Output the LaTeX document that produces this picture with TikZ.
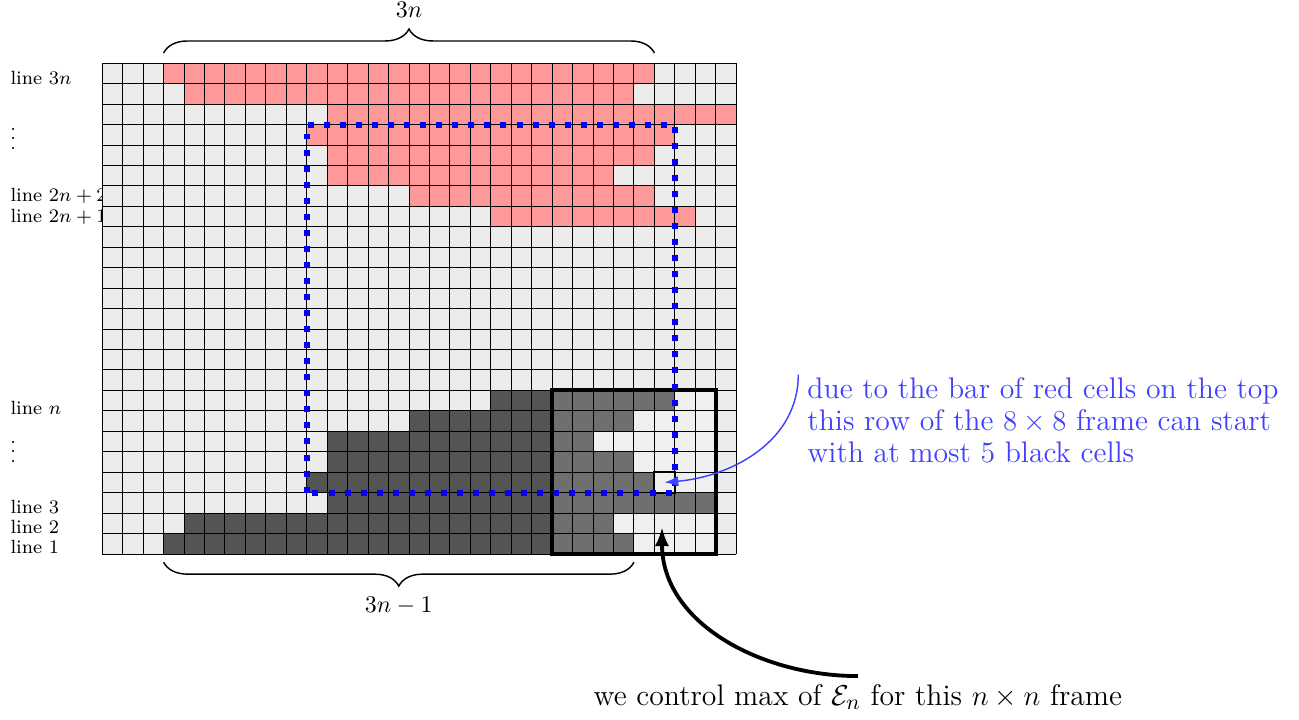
\documentclass[tikz,border=0pt]{standalone}
\usepackage{amsmath,amssymb}
\usepackage{tikz}
\usetikzlibrary{arrows.meta, positioning, decorations.pathreplacing}

\begin{document}
\begin{tikzpicture}[scale=0.3]
\useasboundingbox (-5.0,-8.07) rectangle (58.52,27.09);
% Line labels
\foreach \y/\tag/\txt in {23.26/lthreen/{line $3n$},17.5/ltwontwo/{line $2n+2$},16.5/ltwonone/{line $2n+1$},7.12/ln/{line $n$},2.28/lthree/{line 3},1.33/ltwo/{line 2},0.36/lone/{line 1}} {
  \node[anchor=west,font=\footnotesize] (\tag) at (-4.9,\y) {\txt};
}
\node[anchor=west,font=\footnotesize,inner sep=0pt] (vdotsa) at (-4.51,20.65) {$\vdots$};
\node[anchor=west,font=\footnotesize,inner sep=0pt] (vdotsb) at (-4.51,5.35) {$\vdots$};
% Cells
\fill[gray!15] (0,0) rectangle (31,24);
\foreach \r/\a/\b in {24/3/26,23/4/25,22/11/30,21/10/27,20/11/26,19/11/24,18/15/26,17/19/28} {
  \fill[red!40] (\a,\r-1) rectangle (\b+1,\r);
}
\foreach \r/\a/\b in {8/19/27,7/15/25,6/11/23,5/11/25,4/10/26,3/11/29,2/4/24,1/3/25} {
  \fill[black!67] (\a,\r-1) rectangle (\b+1,\r);
}
\fill[white,opacity=0.16] (22,0) rectangle (30,8);
\draw[step=1] (0,0) grid (31,24);
% n x n frame and the watched cell
\draw[ultra thick] (22,0) rectangle (30,8);
\node[draw,thick,minimum size=0.3cm,inner sep=0pt] (probe) at (27.5,3.5) {};
% Blue window
\draw[blue,line width=2.5pt,dash pattern=on 2.5pt off 4.2pt] (10,3) rectangle (28,21);
% Braces
\draw[semithick,decorate,decoration={brace,amplitude=10pt}] (3,24.5) -- (27,24.5) node[midway,above=11pt] (spantop) {$3n$};
\draw[semithick,decorate,decoration={brace,amplitude=10pt,mirror}] (3,-0.4) -- (26,-0.4) node[midway,below=11pt] (spanbot) {$3n-1$};
% Remarks
\node[anchor=north west,align=left,text=blue!75,font={\fontsize{12.4}{13.4}\selectfont}] (note) at (34.07,9.05) {due to the bar of red cells on the top\\this row of the $8\times8$ frame can start\\with at most 5 black cells};
\draw[blue!75,semithick,-{Latex}] ([xshift=-1pt,yshift=-8pt]note.north west) to[out=-90,in=5] (probe.center);
\node[font={\fontsize{12.4}{14}\selectfont}] (frametext) at (36.95,-7.0) {we control max of $\mathcal{E}_n$ for this $n\times n$ frame};
\coordinate (aim) at (27.37,1.32);
\draw[ultra thick,-{Latex[length=8pt,width=6pt]}] (frametext.north) to[out=180,in=-90] (aim);
\end{tikzpicture}
\end{document}
